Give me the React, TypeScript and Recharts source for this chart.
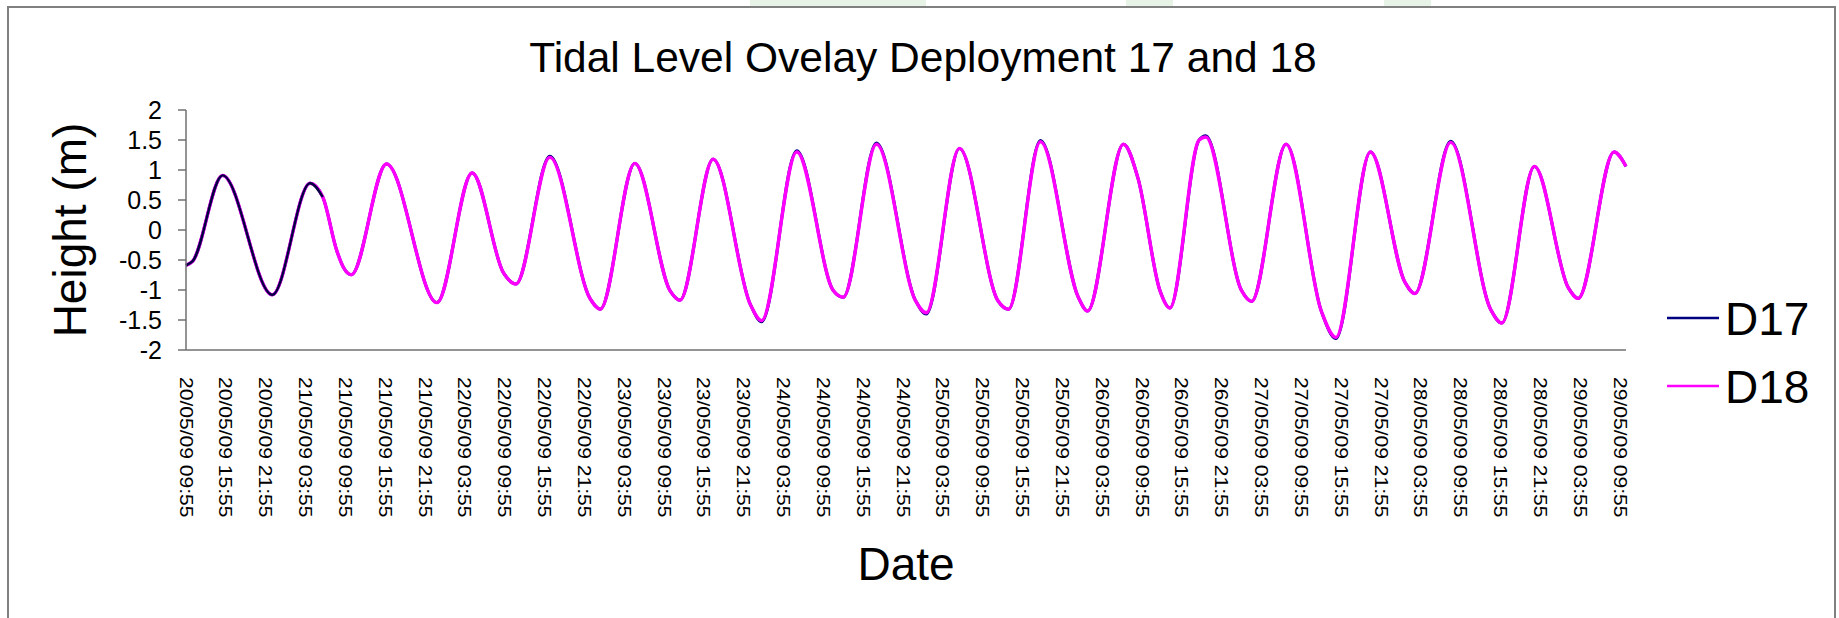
import React from 'react'
import { LineChart, Line, XAxis, YAxis } from 'recharts'

// hours elapsed since 20/05/09 09:55 (start of the record)
const hours = [
  0, 1.0, 5.5, 13.0, 18.7, 20.6, 22.7, 23.7, 24.9, 30.2, 37.8, 43.1,
  47.8, 49.7, 54.8, 60.9, 62.4, 67.6, 72.9, 74.4, 79.4, 85.0, 86.7, 92.0, 97.5, 99.0,
  104.0, 109.9, 111.5, 116.5, 122.3, 123.9, 128.7, 134.4, 135.8, 141.2, 143.4, 146.7,
  148.2, 152.6, 153.6, 159.0, 160.5, 165.7, 171.0, 173.2, 178.4, 183.6, 185.1, 190.5,
  196.5, 198.2, 203.1, 208.2, 209.7, 215.1, 216.9,
]

// tidal height (m), deployment 18
const d18 = [
  -0.59, -0.52, 0.91, -1.08, 0.78, 0.55, -0.34, -0.62, -0.745, 1.1, -1.21, 0.95,
  -0.71, -0.9, 1.21, -1.15, -1.32, 1.11, -1.01, -1.17, 1.18, -1.24, -1.51, 1.3, -1.01, -1.12,
  1.43, -1.18, -1.38, 1.36, -1.18, -1.32, 1.47, -1.12, -1.35, 1.43, 0.86, -1.01,
  -1.3, 1.5, 1.55, -1.01, -1.19, 1.43, -1.35, -1.79, 1.3, -0.87, -1.06, 1.46,
  -1.32, -1.55, 1.06, -0.96, -1.14, 1.3, 1.06,
]

// tidal height (m), deployment 17
const d17 = [
  -0.59, -0.52, 0.91, -1.08, 0.78, 0.55, -0.34, -0.62, -0.745, 1.1, -1.21, 0.95,
  -0.71, -0.9, 1.23, -1.15, -1.32, 1.11, -1.01, -1.17, 1.18, -1.24, -1.53, 1.32, -1.01, -1.12,
  1.45, -1.18, -1.4, 1.36, -1.18, -1.32, 1.49, -1.12, -1.35, 1.43, 0.86, -1.01,
  -1.3, 1.5, 1.57, -1.01, -1.19, 1.43, -1.35, -1.81, 1.3, -0.87, -1.06, 1.48,
  -1.32, -1.55, 1.06, -0.96, -1.14, 1.3, 1.06,
]

const xTickLabels = [
  '20/05/09 09:55', '20/05/09 15:55', '20/05/09 21:55',
  '21/05/09 03:55', '21/05/09 09:55', '21/05/09 15:55', '21/05/09 21:55',
  '22/05/09 03:55', '22/05/09 09:55', '22/05/09 15:55', '22/05/09 21:55',
  '23/05/09 03:55', '23/05/09 09:55', '23/05/09 15:55', '23/05/09 21:55',
  '24/05/09 03:55', '24/05/09 09:55', '24/05/09 15:55', '24/05/09 21:55',
  '25/05/09 03:55', '25/05/09 09:55', '25/05/09 15:55', '25/05/09 21:55',
  '26/05/09 03:55', '26/05/09 09:55', '26/05/09 15:55', '26/05/09 21:55',
  '27/05/09 03:55', '27/05/09 09:55', '27/05/09 15:55', '27/05/09 21:55',
  '28/05/09 03:55', '28/05/09 09:55', '28/05/09 15:55', '28/05/09 21:55',
  '29/05/09 03:55', '29/05/09 09:55',
]
const xTicks = xTickLabels.map((_, i) => i * 6)
const yTicks = [-2, -1.5, -1, -0.5, 0, 0.5, 1, 1.5, 2]

// D17 shows on top of D18 only at the very start of the record
const SPLIT_HOUR = 20.6

const rows = hours.map((h, i) => ({
  h,
  d17: d17[i],
  d18: d18[i],
  d17Early: h <= SPLIT_HOUR ? d17[i] : null,
}))

const FONT = '"Liberation Sans", Arial, sans-serif'
const AXIS = '#707070'

function XTick({ x, y, payload }: any) {
  const idx = Math.round(payload.value / 6)
  return (
    <text
      transform={`translate(${x},${y + 19}) rotate(90) scale(1.17,1)`}
      fontFamily={FONT}
      fontSize={18}
      fill="#000"
      textAnchor="start"
      dominantBaseline="central"
    >
      {xTickLabels[idx]}
    </text>
  )
}

function YTick({ x, y, payload }: any) {
  return (
    <text x={x} y={y} fontFamily={FONT} fontSize={25} fill="#000" textAnchor="end" dominantBaseline="central">
      {String(payload.value)}
    </text>
  )
}

export default function App() {
  return (
    <div style={{ position: 'absolute', left: 0, top: 0, width: 1839, height: 618, overflow: 'hidden', background: '#fff' }}>
      {/* faint page background peeking above the chart frame */}
      <div style={{ position: 'absolute', left: 750, top: 0, width: 176, height: 6, background: '#e6f3e6' }} />
      <div style={{ position: 'absolute', left: 1126, top: 0, width: 47, height: 6, background: '#e6f3e6' }} />
      <div style={{ position: 'absolute', left: 1384, top: 0, width: 47, height: 6, background: '#e6f3e6' }} />
      <div
        style={{
          position: 'absolute',
          left: 7,
          top: 6,
          width: 1825,
          height: 700,
          border: '2px solid #808080',
        }}
      />
      <div style={{ position: 'absolute', left: 0, top: 0 }}>
        <LineChart width={1839} height={618} data={rows} margin={{ top: 110, right: 213, bottom: 68, left: 0 }}>
          <XAxis
            dataKey="h"
            type="number"
            domain={[0, 216.9]}
            ticks={xTicks}
            interval={0}
            height={200}
            tickLine={false}
            axisLine={{ stroke: AXIS, strokeWidth: 1.5 }}
            tick={<XTick />}
          />
          <YAxis
            type="number"
            domain={[-2, 2]}
            ticks={yTicks}
            interval={0}
            width={186}
            tickSize={8}
            tickMargin={16}
            tickLine={{ stroke: AXIS, strokeWidth: 1.5 }}
            axisLine={{ stroke: AXIS, strokeWidth: 1.5 }}
            tick={<YTick />}
          />
          <Line dataKey="d17" name="D17" type="monotone" stroke="#000080" strokeWidth={3} dot={false} activeDot={false} isAnimationActive={false} />
          <Line dataKey="d18" name="D18" type="monotone" stroke="#FF00FF" strokeWidth={3.4} dot={false} activeDot={false} isAnimationActive={false} />
          <Line dataKey="d17Early" type="monotone" stroke="#000040" strokeWidth={2.4} dot={false} activeDot={false} legendType="none" isAnimationActive={false} />
        </LineChart>
      </div>
      <svg width={1839} height={618} style={{ position: 'absolute', left: 0, top: 0, pointerEvents: 'none' }}>
        <text x={923} y={72} textAnchor="middle" fontFamily={FONT} fontSize={42.5} fill="#000">
          Tidal Level Ovelay Deployment 17 and 18
        </text>
        <text transform="translate(86,230) rotate(-90)" textAnchor="middle" fontFamily={FONT} fontSize={46} fill="#000">
          Height (m)
        </text>
        <text x={906} y={580} textAnchor="middle" fontFamily={FONT} fontSize={46} fill="#000">
          Date
        </text>
        <line x1={1667} x2={1719} y1={318} y2={318} stroke="#000080" strokeWidth={2.5} />
        <text x={1725} y={335} fontFamily={FONT} fontSize={46} fill="#000">D17</text>
        <line x1={1667} x2={1719} y1={386} y2={386} stroke="#FF00FF" strokeWidth={2.5} />
        <text x={1725} y={403} fontFamily={FONT} fontSize={46} fill="#000">D18</text>
      </svg>
    </div>
  )
}
